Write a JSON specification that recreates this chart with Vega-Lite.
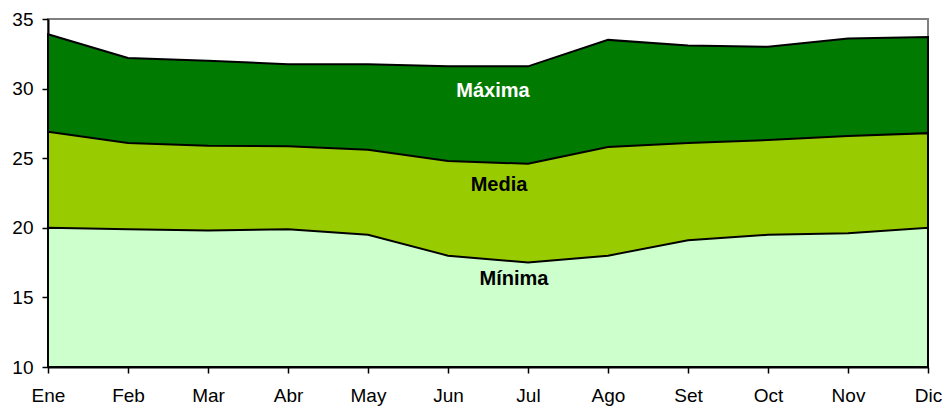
{
  "$schema": "https://vega.github.io/schema/vega-lite/v6.json",
  "autosize": "none",
  "width": 880,
  "height": 348,
  "padding": {"left": 48, "top": 19, "right": 17, "bottom": 41},
  "background": "white",
  "config": {
    "font": "Liberation Sans",
    "view": {"stroke": "#808080", "strokeWidth": 2},
    "axis": {"grid": false, "labelFont": "Liberation Sans", "labelFontSize": 19, "labelColor": "#000", "domainColor": "#000", "tickColor": "#000", "domainWidth": 2, "tickWidth": 1.5, "tickSize": 6}
  },
  "datasets": {
    "temp": [
      {"mes": "Ene", "max": 33.9, "media": 26.9, "min": 20.0},
      {"mes": "Feb", "max": 32.2, "media": 26.1, "min": 19.9},
      {"mes": "Mar", "max": 32.0, "media": 25.9, "min": 19.8},
      {"mes": "Abr", "max": 31.75, "media": 25.85, "min": 19.9},
      {"mes": "May", "max": 31.75, "media": 25.6, "min": 19.5},
      {"mes": "Jun", "max": 31.6, "media": 24.8, "min": 18.0},
      {"mes": "Jul", "max": 31.6, "media": 24.6, "min": 17.5},
      {"mes": "Ago", "max": 33.5, "media": 25.8, "min": 18.0},
      {"mes": "Set", "max": 33.1, "media": 26.1, "min": 19.1},
      {"mes": "Oct", "max": 33.0, "media": 26.3, "min": 19.5},
      {"mes": "Nov", "max": 33.6, "media": 26.6, "min": 19.6},
      {"mes": "Dic", "max": 33.7, "media": 26.8, "min": 20.0}
    ],
    "labels": [
      {"mes": "Jul", "valor": 29.8, "texto": "Máxima"},
      {"mes": "Jul", "valor": 23.1, "texto": "Media"},
      {"mes": "Jul", "valor": 16.3, "texto": "Mínima"}
    ]
  },
  "layer": [
    {
      "data": {"name": "temp"},
      "mark": {"type": "area", "color": "#007A00", "stroke": "#000", "strokeWidth": 2},
      "encoding": {
        "x": {"field": "mes", "type": "ordinal", "sort": null, "scale": {"type": "point", "padding": 0}, "axis": {"title": null, "labelAngle": 0, "labelPadding": 13}},
        "y": {"field": "max", "type": "quantitative", "scale": {"domain": [10, 35], "nice": false, "zero": false}, "axis": {"title": null, "values": [10, 15, 20, 25, 30, 35], "labelPadding": 9}},
        "y2": {"datum": 10}
      }
    },
    {
      "data": {"name": "temp"},
      "mark": {"type": "area", "color": "#99CC00", "stroke": "#000", "strokeWidth": 2},
      "encoding": {
        "x": {"field": "mes", "type": "ordinal", "sort": null},
        "y": {"field": "media", "type": "quantitative"},
        "y2": {"datum": 10}
      }
    },
    {
      "data": {"name": "temp"},
      "mark": {"type": "area", "color": "#CCFFCC", "stroke": "#000", "strokeWidth": 2},
      "encoding": {
        "x": {"field": "mes", "type": "ordinal", "sort": null},
        "y": {"field": "min", "type": "quantitative"},
        "y2": {"datum": 10}
      }
    },
    {
      "data": {"name": "labels"},
      "transform": [{"filter": "datum.texto === 'Máxima'"}],
      "mark": {"type": "text", "fontWeight": "bold", "fontSize": 20, "font": "Liberation Sans", "color": "#FFFFFF", "dx": -35},
      "encoding": {
        "x": {"field": "mes", "type": "ordinal", "sort": null},
        "y": {"field": "valor", "type": "quantitative"},
        "text": {"field": "texto"}
      }
    },
    {
      "data": {"name": "labels"},
      "transform": [{"filter": "datum.texto === 'Media'"}],
      "mark": {"type": "text", "fontWeight": "bold", "fontSize": 20, "font": "Liberation Sans", "color": "#000000", "dx": -29},
      "encoding": {
        "x": {"field": "mes", "type": "ordinal", "sort": null},
        "y": {"field": "valor", "type": "quantitative"},
        "text": {"field": "texto"}
      }
    },
    {
      "data": {"name": "labels"},
      "transform": [{"filter": "datum.texto === 'Mínima'"}],
      "mark": {"type": "text", "fontWeight": "bold", "fontSize": 20, "font": "Liberation Sans", "color": "#000000", "dx": -14},
      "encoding": {
        "x": {"field": "mes", "type": "ordinal", "sort": null},
        "y": {"field": "valor", "type": "quantitative"},
        "text": {"field": "texto"}
      }
    }
  ]
}
